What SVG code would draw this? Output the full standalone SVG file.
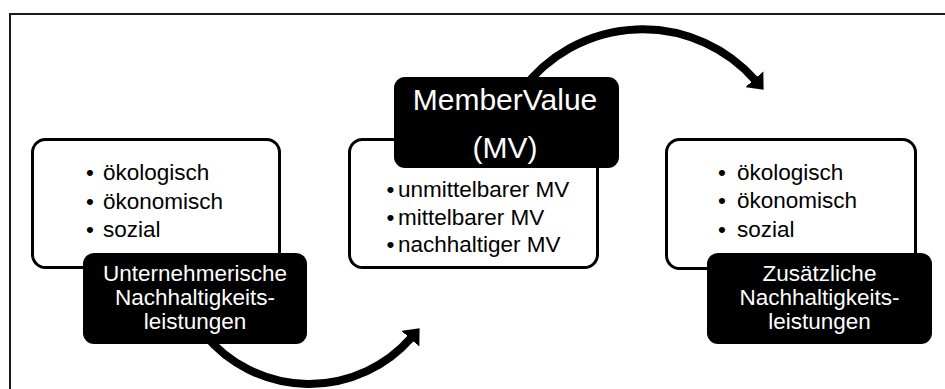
<svg xmlns="http://www.w3.org/2000/svg" width="945" height="389" viewBox="0 0 945 389">
  <defs>
    <style>
      .frame { fill: #ffffff; stroke: #1a1a1a; stroke-width: 2; }
      .wbox { fill: #ffffff; stroke: #000000; stroke-width: 3; }
      .bbox { fill: #000000; stroke: none; }
      .conn { fill: none; stroke: #000000; stroke-width: 8; }
      .t { font-family: "Liberation Sans", Arial, sans-serif; font-size: 22.5px; fill: #000000; }
      .w { font-family: "Liberation Sans", Arial, sans-serif; font-size: 22.5px; fill: #ffffff; text-anchor: middle; }
      .big { font-family: "Liberation Sans", Arial, sans-serif; font-size: 30px; fill: #ffffff; text-anchor: middle; }
      .b { text-anchor: middle; }
    </style>
    <marker id="head" viewBox="0 0 14 24" refX="1" refY="12" markerWidth="14" markerHeight="24" markerUnits="userSpaceOnUse" orient="auto">
      <path d="M0,0 L14,12 L0,24 Z" fill="#000000"/>
    </marker>
  </defs>

  <rect class="frame" x="10" y="14" width="950" height="390"/>

  <g id="connectors">
    <path class="conn" d="M 522 90 A 150 150 0 0 1 755 80" marker-end="url(#head)"/>
    <path class="conn" d="M 205 335 A 135.5 135.5 0 0 0 411 338" marker-end="url(#head)"/>
  </g>

  <g id="left-list">
    <rect class="wbox" x="32.5" y="139.5" width="247" height="128" rx="13"/>
    <text class="t b" x="90" y="180">•</text>
    <text class="t b" x="90" y="208.5">•</text>
    <text class="t b" x="90" y="237">•</text>
    <text class="t" x="103" y="180">ökologisch</text>
    <text class="t" x="103" y="208.5">ökonomisch</text>
    <text class="t" x="103" y="237">sozial</text>
  </g>

  <g id="left-title">
    <rect class="bbox" x="83" y="253" width="224" height="91" rx="11"/>
    <text class="w" x="195" y="281">Unternehmerische</text>
    <text class="w" x="195" y="305">Nachhaltigkeits-</text>
    <text class="w" x="195" y="329">leistungen</text>
  </g>

  <g id="middle-list">
    <rect class="wbox" x="349.5" y="139.5" width="248" height="128" rx="13"/>
    <text class="t b" x="390.5" y="197">•</text>
    <text class="t b" x="390.5" y="224.5">•</text>
    <text class="t b" x="390.5" y="252">•</text>
    <text class="t" x="398" y="197">unmittelbarer MV</text>
    <text class="t" x="398" y="224.5">mittelbarer MV</text>
    <text class="t" x="398" y="252">nachhaltiger MV</text>
  </g>

  <g id="middle-title">
    <rect class="bbox" x="394" y="77" width="225" height="91" rx="11"/>
    <text class="big" x="505" y="110">MemberValue</text>
    <text class="big" x="505" y="158">(MV)</text>
  </g>

  <g id="right-list">
    <rect class="wbox" x="666.5" y="139.5" width="249" height="129" rx="13"/>
    <text class="t b" x="722" y="179.5">•</text>
    <text class="t b" x="722" y="208">•</text>
    <text class="t b" x="722" y="236.5">•</text>
    <text class="t" x="737" y="179.5">ökologisch</text>
    <text class="t" x="737" y="208">ökonomisch</text>
    <text class="t" x="737" y="236.5">sozial</text>
  </g>

  <g id="right-title">
    <rect class="bbox" x="707" y="253" width="225" height="91" rx="11"/>
    <text class="w" x="819.5" y="281">Zusätzliche</text>
    <text class="w" x="819.5" y="305">Nachhaltigkeits-</text>
    <text class="w" x="819.5" y="329">leistungen</text>
  </g>
</svg>
